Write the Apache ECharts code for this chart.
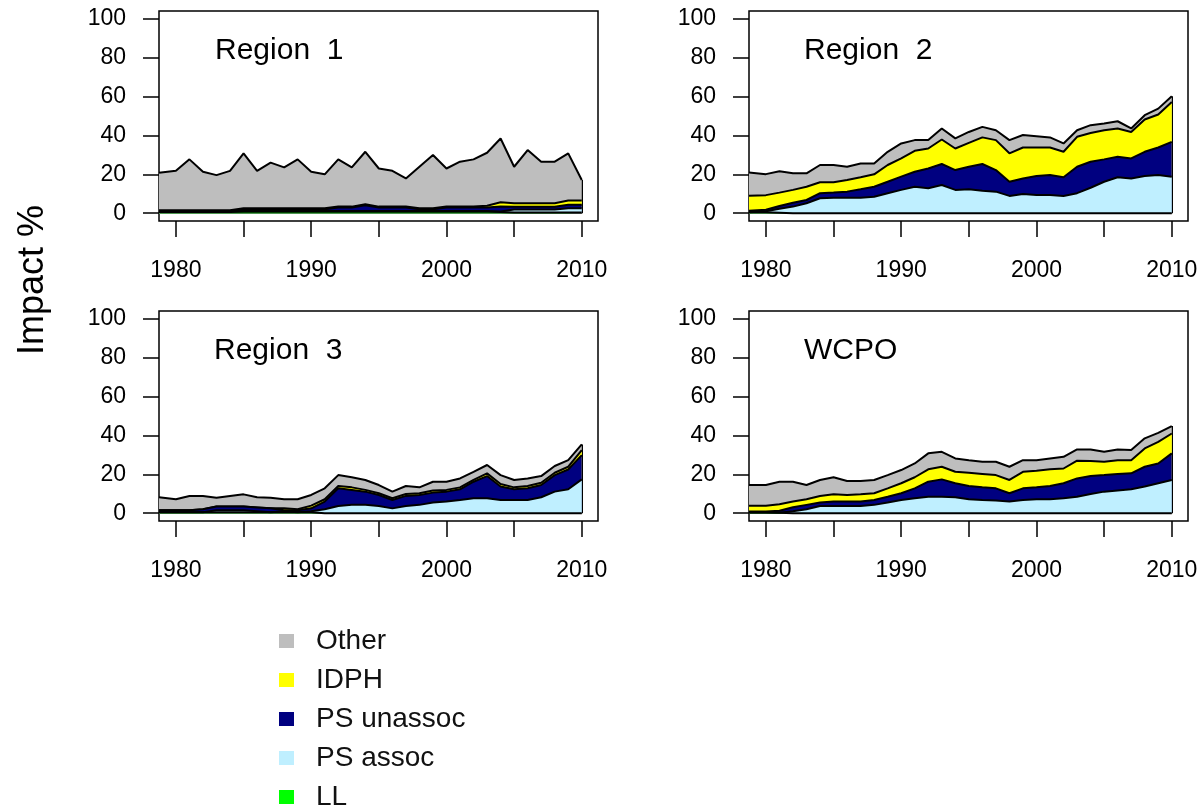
<!DOCTYPE html>
<html>
<head>
<meta charset="utf-8">
<script src="https://cdn.jsdelivr.net/npm/echarts@6/dist/echarts.min.js"></script>
<style>
  html, body { margin: 0; padding: 0; background: #fff; }
  #chart { width: 1202px; height: 811px; }
</style>
</head>
<body>
<div id="chart"></div>
<script>
// years on the x axis
var years = [1979, 1980, 1981, 1982, 1983, 1984, 1985, 1986, 1987, 1988, 1989, 1990, 1991, 1992, 1993, 1994,
             1995, 1996, 1997, 1998, 1999, 2000, 2001, 2002, 2003, 2004, 2005, 2006, 2007, 2008, 2009, 2010];
var xTicks = [1980, 1985, 1990, 1995, 2000, 2005, 2010];
var xLabels = [1980, 1990, 2000, 2010];
var yTicks = [0, 20, 40, 60, 80, 100];

var layerNames = ["LL", "PS assoc", "PS unassoc", "IDPH", "Other"];
var legendOrder = ["Other", "IDPH", "PS unassoc", "PS assoc", "LL"];
var panelTitles = ["Region  1", "Region  2", "Region  3", "WCPO"];

// Region 1 (impact %, one value per layer per year)
var r1LL    = [0.6,0.6,0.6,0.6,0.6,0.6,0.8,0.8,0.8,0.8,0.8,0.8,0.8,0.8,0.8,0.8,0.8,0.8,0.8,0.8,0.8,0.8,0.8,0.8,0.8,0.6,0.4,0.4,0.4,0.4,0.4,0.4];
var r1PSa   = [0.3,0.3,0.3,0.3,0.3,0.3,0.3,0.3,0.3,0.3,0.3,0.3,0.3,0.3,0.3,0.3,0.3,0.3,0.3,0.3,0.3,0.3,0.3,0.3,0.3,0.3,1.5,1.5,1.5,1.5,2.2,2.2];
var r1PSu   = [0.3,0.3,0.3,0.3,0.3,0.3,1,1,1,1,1,1,1,1.8,1.8,3,1.8,1.8,1.8,1,1,1.8,1.8,1.8,1.8,2.5,1.4,1.4,1.4,1.4,1.8,1.8];
var r1IDPH  = [0.3,0.3,0.3,0.3,0.3,0.3,0.4,0.4,0.4,0.4,0.4,0.4,0.4,0.5,0.5,0.5,0.5,0.5,0.5,0.4,0.4,0.5,0.5,0.5,0.9,2.2,1.8,1.8,1.8,1.8,2.1,2.1];
var r1Other = [19.3,20.3,26.2,19.8,18.1,20.3,28.3,19.3,23.5,21.1,25.2,18.8,17.5,24.3,20.2,27,19.6,18.4,14.5,21.4,27.4,19.6,23.1,24.3,27.3,32.8,18.8,27.4,21.4,21.4,24.3,10.6];

// Region 2
var r2LL    = [0.5,0.5,0.3,0,0,0,0,0,0,0,0,0,0,0,0,0,0,0,0,0,0,0,0,0,0,0,0,0,0,0,0,0];
var r2PSa   = [0,0.5,2,3.4,5.1,7.7,8,8,8,8.5,10.3,12,13.6,12.8,14.5,12,12.3,11.6,11.1,8.9,9.9,9.4,9.4,8.9,10.3,13.1,16.2,18.5,17.9,19.1,19.6,18.8];
var r2PSu   = [0.8,0.8,1.4,2,1.7,2.6,2.6,3.1,4.3,5.1,5.9,6.8,7.7,10.2,10.8,10.2,11.6,13.7,11.1,7.3,8,9.7,10.2,9.6,13.6,13.4,11.5,10.5,10.3,12.5,14.2,17.9];
var r2IDPH  = [7.7,7.5,6.9,6.6,6.8,5.6,5.3,6,6.2,6.4,8.6,9.4,10.8,10.3,12.6,11.1,12.3,13.7,15.4,14.6,15.9,14.7,14.2,13.1,15.4,14.8,15,14.6,13.6,16.6,17,20.5];
var r2Other = [12,10.8,11,8.5,6.9,8.9,8.9,6.8,7.1,5.6,6.8,7.7,5.5,4.3,5.7,5.2,5.6,5.4,5.1,6.8,6.4,5.8,5.2,4.3,3.4,4,3.4,3.7,1.8,2.2,3,3];

// Region 3
var r3LL    = [0.5,0.5,0.5,0.5,0.5,0.5,0.5,0.5,0.5,0.5,0.5,0.5,0,0,0,0,0,0,0,0,0,0,0,0,0,0,0,0,0,0,0,0];
var r3PSa   = [0,0,0,0,1,1,1,0.5,0,0.5,0,0.5,2,3.7,4.3,4.3,3.7,2.5,3.7,4.3,5.5,6,6.8,7.7,7.7,6.8,6.8,6.8,8.2,11.1,12.3,17.4];
var r3PSu   = [1,1,1,1.5,2,2,2,2,2,0.5,1,1.5,4,9.1,7.7,6.8,5.7,4.3,5.2,5.1,5.1,5.1,5.5,8.5,11.4,6.9,5.5,6,6.3,8.5,10.2,12.5];
var r3IDPH  = [0,0,0,0,0,0,0,0,0,1,0.5,1.4,1.2,1.2,1.3,0.9,0.9,0.9,1,0.9,1.1,0.9,1,0.9,1.4,1.3,1,1.2,1.2,1.2,1.4,2.6];
var r3Other = [6.7,5.7,7.4,6.9,4.5,5.4,6.2,5.2,5.5,4.7,5.2,5.5,5.6,5.6,5.2,5.1,4.2,3.4,4.1,3,4.5,4.2,4.6,4.2,4.3,4.6,3.8,3.9,3.4,3.5,3.4,2.9];

// WCPO
var r4LL    = [0.4,0.4,0.3,0,0,0,0,0,0,0,0,0,0,0,0,0,0,0,0,0,0,0,0,0,0,0,0,0,0,0,0,0];
var r4PSa   = [0,0,0,1,2,3.7,3.7,3.7,3.7,4.3,5.5,6.8,7.7,8.5,8.5,8.2,7.2,6.8,6.5,6,6.8,7.2,7.2,7.7,8.5,9.9,11.1,11.7,12.3,13.7,15.4,17.1];
var r4PSu   = [0.5,0.5,1,2.1,2.3,1.8,2.3,2.3,2.3,2.5,3,3.5,5.1,7.7,8.9,7.2,6.8,6.5,6.3,4.3,6,6.1,6.8,7.7,9.4,9.2,8.5,8.5,8.2,10.2,10.2,13.7];
var r4IDPH  = [2.9,2.9,3.3,2.9,2.9,3.4,3.7,3.4,3.7,3.5,4.3,5.1,5.7,6.4,6.5,5.9,6.8,6.9,6.8,6.8,8.5,8.5,8.6,7.6,9.1,7.7,6.9,7.1,6.8,9.4,11.1,10.2];
var r4Other = [10.7,10.7,11.6,10.2,7.3,8.2,8.8,7.2,6.9,6.8,6.8,6.8,7.1,8.2,7.7,6.9,6.5,6.3,6.9,6.8,6,5.5,5.6,6,5.8,6,5.1,5.5,5.2,5.2,4.6,3.8];

(function () {
  var myChart = echarts.init(document.getElementById("chart"));
  var font = "'Liberation Sans', Arial, sans-serif";
  var colors = ["#00FF00", "#BFEFFF", "#000080", "#FFFF00", "#BEBEBE"]; // LL .. Other
  var X_MIN = 1978.75, X_MAX = 2011.2;

  var panels = [
    [r1LL, r1PSa, r1PSu, r1IDPH, r1Other],
    [r2LL, r2PSa, r2PSu, r2IDPH, r2Other],
    [r3LL, r3PSa, r3PSu, r3IDPH, r3Other],
    [r4LL, r4PSa, r4PSu, r4IDPH, r4Other]
  ];
  var boxes = [[159, 11], [749, 11], [159, 311], [749, 311]];
  var titlePos = [[215, 36], [804, 36], [214, 336], [804, 336]];

  var grids = [], xAxes = [], yAxes = [], series = [], titles = [];

  panels.forEach(function (layers, k) {
    grids.push({
      left: boxes[k][0], top: boxes[k][1], width: 439, height: 210,
      show: true, borderColor: "#000", borderWidth: 1.5,
      backgroundColor: "transparent", outerBoundsMode: "none"
    });
    xAxes.push({
      gridIndex: k, type: "value", min: X_MIN, max: X_MAX,
      axisLine: { show: false, onZero: false },
      splitLine: { show: false },
      axisTick: { customValues: xTicks, length: 16, lineStyle: { color: "#000", width: 1.5 } },
      axisLabel: {
        customValues: xLabels, margin: 38, fontSize: 23, color: "#000", fontFamily: font,
        formatter: function (v) { return String(v); }
      }
    });
    yAxes.push({
      gridIndex: k, type: "value", min: -4, max: 104,
      axisLine: { show: false },
      splitLine: { show: false },
      axisTick: { customValues: yTicks, length: 16, lineStyle: { color: "#000", width: 1.5 } },
      axisLabel: {
        customValues: yTicks, margin: 33, fontSize: 23, color: "#000", fontFamily: font,
        formatter: function (v) { return String(v); }
      }
    });
    titles.push({
      text: panelTitles[k], left: titlePos[k][0], top: titlePos[k][1], padding: 0,
      textStyle: { fontSize: 30, fontWeight: "normal", color: "#000", fontFamily: font }
    });

    // running totals: each layer is drawn from 0 up to its cumulative top,
    // upper layers underneath, so the visible band is the layer itself
    var last = years.length - 1;
    var total = 0;
    layers.forEach(function (l) { total += l[last]; });
    var cum = years.map(function () { return 0; });

    layers.forEach(function (vals, j) {
      cum = cum.map(function (c, i) { return c + vals[i]; });
      var tops = cum.slice();
      var s = {
        name: layerNames[j],
        type: "line",
        xAxisIndex: k, yAxisIndex: k,
        z: 10 - j,
        symbol: "none",
        silent: true,
        animation: false,
        color: colors[j],
        lineStyle: { color: "#000", width: 2 },
        areaStyle: { color: colors[j], opacity: 1, origin: 0 },
        data: years.map(function (y, i) {
          return [i === 0 ? X_MIN : y, tops[i]];
        })
      };
      if (j === 0) {
        // bottom edge and closing right edge of the polygons, on top of everything
        s.markLine = {
          silent: true, symbol: "none", animation: false,
          label: { show: false },
          lineStyle: { color: "#000", width: 2, type: "solid" },
          data: [
            [{ coord: [X_MIN, 0] }, { coord: [years[last], 0] }],
            [{ coord: [years[last], 0] }, { coord: [years[last], total] }]
          ]
        };
      }
      series.push(s);
    });
  });

  var option = {
    backgroundColor: "#fff",
    animation: false,
    title: titles,
    grid: grids,
    xAxis: xAxes,
    yAxis: yAxes,
    legend: {
      orient: "vertical", left: 279, top: 627, height: 190, padding: 0,
      icon: "rect", itemWidth: 15, itemHeight: 14, itemGap: 11,
      selectedMode: false,
      data: legendOrder,
      itemStyle: { borderWidth: 0 },
      textStyle: { fontSize: 28, color: "#111", fontFamily: font, padding: [0, 0, 0, 17] }
    },
    graphic: [{
      type: "text", x: 33, y: 280, rotation: Math.PI / 2,
      style: {
        text: "Impact %", fontSize: 36, fill: "#000", fontFamily: font,
        textAlign: "center", textVerticalAlign: "middle"
      }
    }],
    series: series
  };
  myChart.setOption(option);
})();
</script>
</body>
</html>
